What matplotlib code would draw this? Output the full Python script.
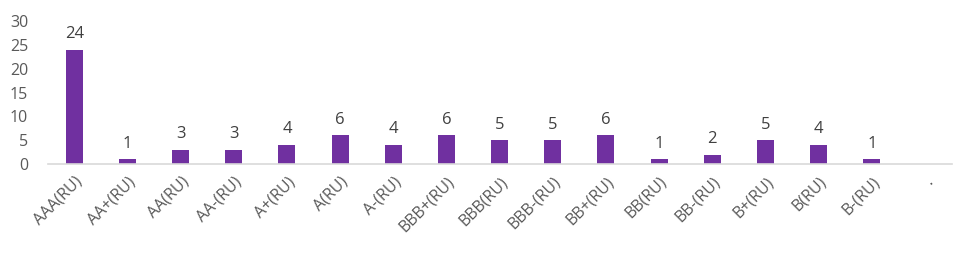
import numpy as np
import matplotlib.pyplot as plt

categories = ['AAA(RU)', 'AA+(RU)', 'AA(RU)', 'AA-(RU)', 'A+(RU)', 'A(RU)', 'A-(RU)',
              'BBB+(RU)', 'BBB(RU)', 'BBB-(RU)', 'BB+(RU)', 'BB(RU)', 'BB-(RU)',
              'B+(RU)', 'B(RU)', 'B-(RU)', '.']
counts = [24, 1, 3, 3, 4, 6, 4, 6, 5, 5, 6, 1, 2, 5, 4, 1, np.nan]
yticks = [0, 5, 10, 15, 20, 25, 30]

plt.rcParams['font.family'] = ['Open Sans', 'DejaVu Sans']

fig = plt.figure(figsize=(9.73, 2.56), dpi=100)
ax = fig.add_axes([0.049, 0.359, 0.929, 0.559])

x = np.arange(len(categories))
bars = ax.bar(x, counts, width=0.32, color='#7030A0')

for xi, v in zip(x, counts):
    if not np.isnan(v):
        ax.text(xi, v + 1.6, f'{int(v)}', ha='center', va='bottom',
                fontsize=12, color='#404040')

ax.set_xlim(-0.5, len(categories) - 0.5)
ax.set_ylim(0, 30)
ax.set_yticks(yticks)
ax.set_xticks(x)
ax.set_xticklabels(categories, rotation=45, ha='right', rotation_mode='anchor',
                   fontsize=11.5, color='#595959')
ax.tick_params(axis='y', length=0, labelsize=11.5, labelcolor='#595959', pad=14)
ax.tick_params(axis='x', length=0, pad=7)
for s in ['top', 'right', 'left']:
    ax.spines[s].set_visible(False)
ax.spines['bottom'].set_color('#d9d9d9')
ax.spines['bottom'].set_linewidth(1.2)

fig.savefig('out.png', dpi=100)
